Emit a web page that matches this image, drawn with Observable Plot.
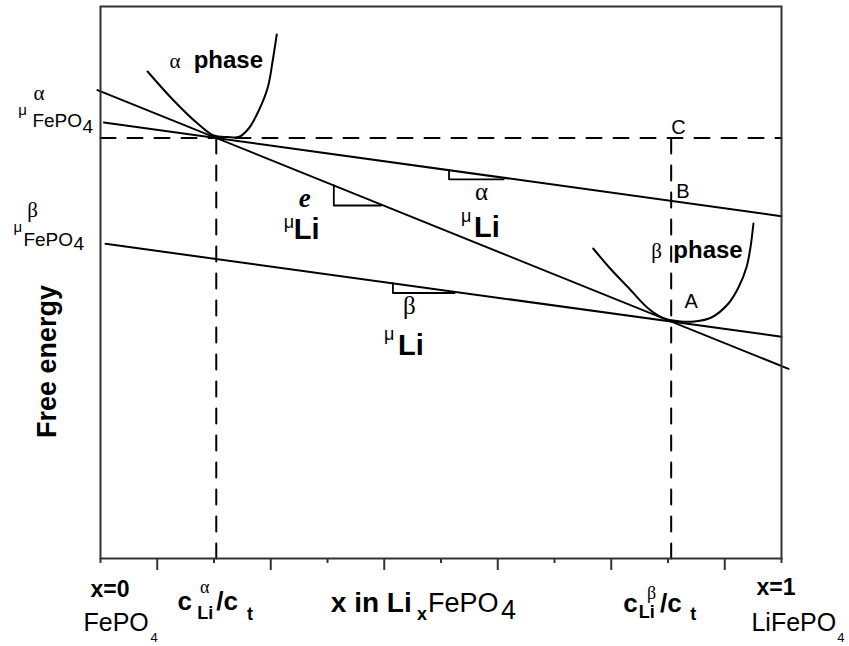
<!DOCTYPE html>
<html><head><meta charset="utf-8">
<script src="https://cdn.jsdelivr.net/npm/d3@7"></script>
<script src="https://cdn.jsdelivr.net/npm/@observablehq/plot@0.6"></script>
<style>body{margin:0;background:#fff}</style>
</head><body><div id="chart"></div>
<script>
// x = Li content in LixFePO4 (0..1); y = free energy (arbitrary units, 0..100)
const xTicksMajor = [1/12, 3/12, 5/12, 7/12, 9/12, 11/12];
const xTicksMinor = [0, 2/12, 4/12, 6/12, 8/12, 10/12, 1];

const alphaPhaseCurve = [
  [0.0691, 88.22], [0.1074, 82.97], [0.1426, 78.80], [0.1662, 76.63],
  [0.1868, 76.35], [0.2029, 76.35], [0.2176, 77.90], [0.2324, 81.16],
  [0.2456, 85.33], [0.2529, 90.22], [0.2588, 94.93]
];
const betaPhaseCurve = [
  [0.7235, 56.16], [0.7471, 52.72], [0.7750, 49.09], [0.8044, 45.29],
  [0.8279, 43.48], [0.8485, 43.00], [0.8721, 42.95], [0.8971, 43.66],
  [0.9221, 46.20], [0.9368, 49.09], [0.9485, 52.72], [0.9544, 56.34],
  [0.9588, 60.69]
];

const cAlpha = 0.17, cBeta = 0.838;   // tangent compositions
const gAlpha = 76.18;                 // free energy at alpha tangent point (C level)

const muAlphaLine = [[0.005, 79.0], [1.0, 62.01]];
const commonTangent = [[-0.0044, 84.86], [1.0103, 34.35]];
const muBetaLine = [[0.0074, 57.01], [1.0, 40.18]];

const dashedLevel = [[0, gAlpha], [1, gAlpha]];
const dashedAlpha = [[cAlpha, 0], [cAlpha, gAlpha]];
const dashedBeta = [[cBeta, 0], [cBeta, gAlpha]];

const slopeE = [[0.3426, 67.59], [0.3426, 63.95], [0.412, 63.95]];
const slopeAlpha = [[0.5118, 70.35], [0.5118, 68.7], [0.592, 68.7]];
const slopeBeta = [[0.4294, 49.86], [0.4294, 48.1], [0.52, 48.1]];

// annotation pieces: x, y (baseline), text, kind
const labels = [
  {x: 0.1015, y: 88.77, text: "α", kind: "greek"},
  {x: 0.1368, y: 88.77, text: "phase", kind: "phase"},
  {x: -0.0985, y: 83.15, text: "α", kind: "greek"},
  {x: -0.1206, y: 80.43, text: "μ", kind: "mu"},
  {x: -0.1000, y: 78.08, text: "FePO", kind: "fepo"},
  {x: -0.0265, y: 77.17, text: "4", kind: "fepo"},
  {x: -0.1074, y: 61.78, text: "β", kind: "greek"},
  {x: -0.1279, y: 59.06, text: "μ", kind: "mu"},
  {x: -0.1132, y: 56.70, text: "FePO", kind: "fepo"},
  {x: -0.0397, y: 55.80, text: "4", kind: "fepo"},
  {x: 0.2912, y: 63.59, text: "e", kind: "eItal"},
  {x: 0.2691, y: 59.96, text: "μ", kind: "muLg"},
  {x: 0.2838, y: 57.97, text: "Li", kind: "liBig"},
  {x: 0.5500, y: 64.86, text: "α", kind: "greekLg"},
  {x: 0.5294, y: 60.87, text: "μ", kind: "muLg"},
  {x: 0.5485, y: 58.33, text: "Li", kind: "liBig"},
  {x: 0.4441, y: 44.38, text: "β", kind: "greekLg"},
  {x: 0.4162, y: 39.67, text: "μ", kind: "muLg"},
  {x: 0.4368, y: 36.78, text: "Li", kind: "liBig"},
  {x: 0.8382, y: 76.99, text: "C", kind: "letter"},
  {x: 0.8456, y: 65.22, text: "B", kind: "letter"},
  {x: 0.8574, y: 45.47, text: "A", kind: "letter"},
  {x: 0.8088, y: 54.35, text: "β", kind: "greek"},
  {x: 0.8412, y: 54.35, text: "phase", kind: "phase"},
  // bottom labels
  {x: -0.0147, y: -6.90, text: "x=0", kind: "tickBold"},
  {x: -0.0250, y: -13.20, text: "FePO", kind: "tickReg"},
  {x: 0.0735, y: -15.20, text: "4", kind: "sub4"},
  {x: 0.1132, y: -9.42, text: "c", kind: "cBold"},
  {x: 0.1460, y: -6.34, text: "α", kind: "greekSm"},
  {x: 0.1420, y: -10.87, text: "Li", kind: "subBold"},
  {x: 0.1700, y: -9.42, text: "/c", kind: "cBold"},
  {x: 0.2150, y: -11.23, text: "t", kind: "subBold"},
  {x: 0.3382, y: -9.78, text: "x in Li", kind: "axisBold"},
  {x: 0.4647, y: -11.23, text: "x", kind: "axisSub"},
  {x: 0.4809, y: -9.78, text: "FePO", kind: "axisReg"},
  {x: 0.5882, y: -10.87, text: "4", kind: "axisReg"},
  {x: 0.7676, y: -9.78, text: "c", kind: "cBold"},
  {x: 0.8025, y: -7.25, text: "β", kind: "greekSm"},
  {x: 0.7905, y: -10.69, text: "Li", kind: "subBold"},
  {x: 0.8215, y: -9.78, text: "/c", kind: "cBold"},
  {x: 0.8660, y: -11.23, text: "t", kind: "subBold"},
  {x: 0.9632, y: -6.60, text: "x=1", kind: "tickBold"},
  {x: 0.9559, y: -13.20, text: "LiFePO", kind: "tickReg"},
  {x: 1.0820, y: -15.20, text: "4", kind: "sub4"}
];
const yTitle = [{x: -0.0779, y: 35.69, text: "Free energy"}];

const SANS = "Liberation Sans, Arial, sans-serif";
const SERIF = "Liberation Serif, Times New Roman, serif";
const styles = {
  greek:   {fontFamily: SERIF, fontSize: 21},
  greekLg: {fontFamily: SERIF, fontSize: 25},
  greekSm: {fontFamily: SERIF, fontSize: 18},
  mu:      {fontFamily: SANS, fontSize: 15},
  muLg:    {fontFamily: SANS, fontSize: 18},
  phase:   {fontFamily: SANS, fontSize: 24, fontWeight: "bold"},
  fepo:    {fontFamily: SANS, fontSize: 19},
  liBig:   {fontFamily: SANS, fontSize: 29, fontWeight: "bold"},
  eItal:   {fontFamily: SERIF, fontSize: 27, fontWeight: "bold", fontStyle: "italic"},
  letter:  {fontFamily: SANS, fontSize: 20},
  tickBold:{fontFamily: SANS, fontSize: 23, fontWeight: "bold"},
  tickReg: {fontFamily: SANS, fontSize: 25},
  sub4:    {fontFamily: SANS, fontSize: 13},
  cBold:   {fontFamily: SANS, fontSize: 26, fontWeight: "bold"},
  subBold: {fontFamily: SANS, fontSize: 18, fontWeight: "bold"},
  axisBold:{fontFamily: SANS, fontSize: 28, fontWeight: "bold"},
  axisSub: {fontFamily: SANS, fontSize: 18, fontWeight: "bold"},
  axisReg: {fontFamily: SANS, fontSize: 27}
};

const textMarks = Object.entries(styles).map(([kind, st]) =>
  Plot.text(labels.filter(d => d.kind === kind), {
    x: "x", y: "y", text: "text", textAnchor: "start", lineAnchor: "bottom",
    fill: "#000", clip: false, ...st
  })
);

const lineOpts = {stroke: "#000", strokeWidth: 2};
const dashOpts = {stroke: "#000", strokeWidth: 2, strokeDasharray: "15,12"};

const chart = Plot.plot({
  width: 849, height: 646,
  marginLeft: 100, marginRight: 68, marginTop: 6, marginBottom: 88,
  x: {domain: [0, 1]},
  y: {domain: [0, 100], axis: null},
  style: {background: "#fff", fontFamily: SANS, overflow: "visible"},
  marks: [
    Plot.line(dashedLevel, dashOpts),
    Plot.line(dashedAlpha, dashOpts),
    Plot.line(dashedBeta, dashOpts),
    Plot.line(muAlphaLine, lineOpts),
    Plot.line(commonTangent, lineOpts),
    Plot.line(muBetaLine, lineOpts),
    Plot.line(alphaPhaseCurve, {...lineOpts, curve: "catmull-rom"}),
    Plot.line(betaPhaseCurve, {...lineOpts, curve: "catmull-rom"}),
    Plot.line(slopeE, {...lineOpts, strokeWidth: 1.8}),
    Plot.line(slopeAlpha, {...lineOpts, strokeWidth: 1.8}),
    Plot.line(slopeBeta, {...lineOpts, strokeWidth: 1.8}),
    Plot.axisX(xTicksMajor, {tickSize: 12, tickFormat: () => "", label: null, stroke: "#333", strokeWidth: 2}),
    Plot.axisX(xTicksMinor, {tickSize: 5, tickFormat: () => "", label: null, stroke: "#333", strokeWidth: 2}),
    Plot.frame({stroke: "#333", strokeWidth: 2}),
    ...textMarks,
    Plot.text(yTitle, {x: "x", y: "y", text: "text", rotate: -90, textAnchor: "middle", lineAnchor: "middle",
      fontSize: 27, fontWeight: "bold", fontFamily: SANS, fill: "#000"})
  ]
});
document.getElementById("chart").appendChild(chart);
</script>
</body></html>
